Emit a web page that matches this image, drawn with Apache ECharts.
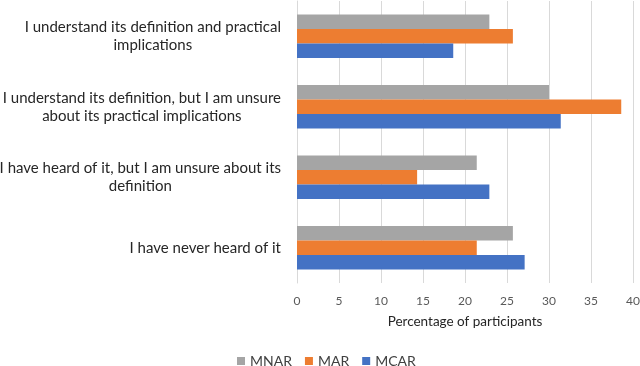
<!DOCTYPE html>
<html>
<head>
<meta charset="utf-8">
<script src="https://cdn.jsdelivr.net/npm/echarts@6/dist/echarts.min.js"></script>
<style>
  html, body { margin: 0; padding: 0; background: #fff; }
  #chart { width: 640px; height: 366px; }
</style>
</head>
<body>
<div id="chart"></div>
<script>
// categories bottom -> top, like the original
const categories = [
  "I have never heard of it",
  "I have heard of it, but I am unsure about its\ndefinition",
  "I understand its definition, but I am unsure\nabout its practical implications",
  "I understand its definition and practical\nimplications",
];
const mnar = [25.7, 21.4, 30.0, 22.9];
const mar = [21.4, 14.3, 38.6, 25.7];
const mcar = [27.1, 22.9, 31.4, 18.6];
const xTicks = [0, 40, 5]; // min, max, step

const chart = echarts.init(document.getElementById("chart"));
const font = "Lato";

let option = {
  animation: false,
  textStyle: { fontFamily: font },
  color: ["#A5A5A5", "#ED7D31", "#4472C4"],
  legend: {
    top: 349,
    left: 232,
    icon: "rect",
    itemWidth: 8,
    itemHeight: 8,
    itemGap: 13,
    textStyle: { fontSize: 14, color: "#404040", fontFamily: font },
  },
  grid: { left: 297, right: 7, top: 1, bottom: 83, outerBoundsMode: "none", containLabel: false },
  xAxis: {
    type: "value",
    min: xTicks[0],
    max: xTicks[1],
    interval: xTicks[2],
    name: "Percentage of participants",
    nameLocation: "middle",
    nameGap: 32,
    nameTextStyle: { fontSize: 13.5, color: "#262626", fontFamily: font },
    axisLine: { show: false },
    axisTick: { show: false },
    axisLabel: { fontSize: 12, color: "#595959", margin: 12 },
    splitLine: { lineStyle: { color: "#D9D9D9", width: 1 } },
  },
  yAxis: {
    type: "category",
    data: categories,
    axisTick: { show: false },
    axisLine: { lineStyle: { color: "#D9D9D9" } },
    axisLabel: {
      margin: 16,
      fontSize: 15,
      color: "#262626",
      lineHeight: 18,
      formatter: (val) => {
        return val.split("\n").map((s) => "{c|" + s + "}").join("\n");
      },
      rich: {
        c: { align: "center", fontSize: 15, lineHeight: 18, color: "#262626", fontFamily: font },
      },
    },
  },
  series: [
    { name: "MNAR", type: "bar", data: mnar, barGap: "0%", barCategoryGap: "38%" },
    { name: "MAR", type: "bar", data: mar, barGap: "0%", barCategoryGap: "38%" },
    { name: "MCAR", type: "bar", data: mcar, barGap: "0%", barCategoryGap: "38%" },
  ],
};
option && chart.setOption(option);
</script>
</body>
</html>
